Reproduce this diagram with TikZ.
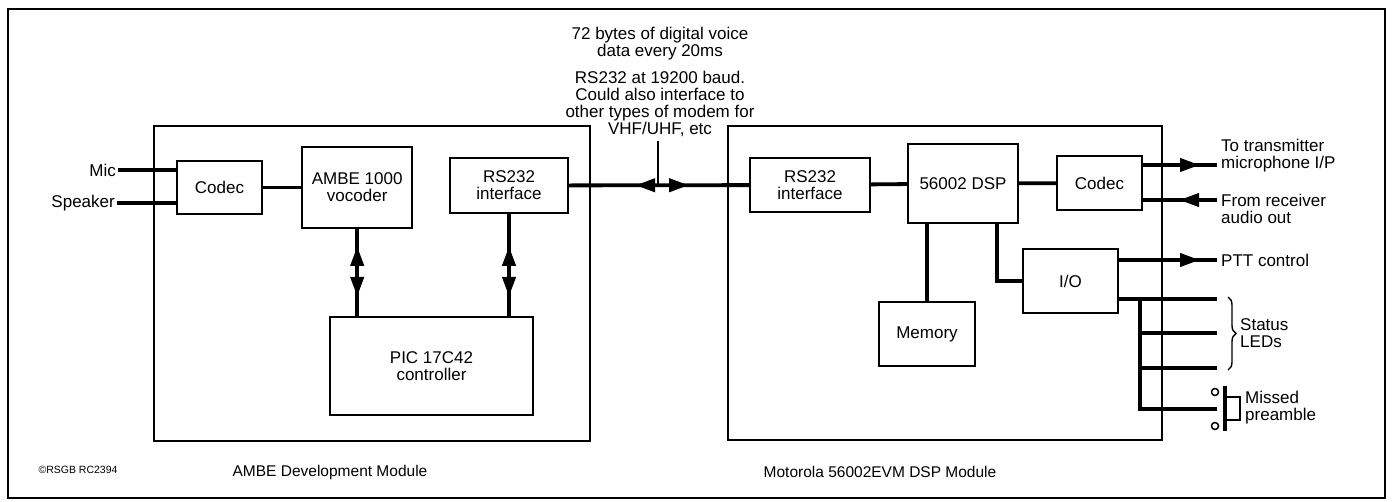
\documentclass[tikz,border=0pt]{standalone}
\usepackage{fontspec}
\setmainfont{Liberation Sans}
\usepackage{tikz}
\usetikzlibrary{arrows.meta, positioning, calc, decorations.markings, decorations.pathreplacing}

\newcommand{\lblsize}{\fontsize{17}{17}\selectfont}
\newcommand{\modsize}{\fontsize{15.5}{17}\selectfont}
\newcommand{\tagsize}{\fontsize{10.5}{11}\selectfont}

\tikzset{headtip/.tip={Triangle[length=19pt, width=14pt]}}

\begin{document}
\begin{tikzpicture}[x=1pt, y=-1pt,
  blk/.style={rectangle, draw=black, line width=2.2pt, fill=white, inner sep=1pt,
              align=center, font=\lblsize},
  module/.style={rectangle, draw=black, line width=1.4pt, inner sep=0pt},
  wire/.style={line width=3.8pt},
  lbl/.style={inner sep=2pt, align=left, font=\lblsize},
  twoway/.style={wire, postaction={decorate}, decoration={markings,
      mark=at position 20pt with {\arrowreversed[line width=1pt]{headtip}},
      mark=at position 69pt with {\arrow[line width=1pt]{headtip}}}},
  serial/.style={wire, postaction={decorate}, decoration={markings,
      mark=at position 67pt with {\arrowreversed[line width=1pt]{headtip}},
      mark=at position 119pt with {\arrow[line width=1pt]{headtip}}}},
  outward/.style={wire, postaction={decorate}, decoration={markings,
      mark=at position -18pt with {\arrow[line width=1pt]{headtip}}}},
  inward/.style={wire, postaction={decorate}, decoration={markings,
      mark=at position -37pt with {\arrowreversed[line width=1pt]{headtip}}}},
]
  \useasboundingbox (0,0) rectangle (1392,501);

  \node[module, minimum width=1377pt, minimum height=489pt] (frame) at (696.5,253.5) {};
  \node[module, minimum width=436pt, minimum height=315pt] (ambemod) at (372,283.5) {};
  \node[module, minimum width=434pt, minimum height=314pt] (dspmod) at (945,283) {};

  \node[blk, minimum width=85pt, minimum height=53pt] (codecl) at (219.5,187.5) {Codec};
  \node[blk, minimum width=110pt, minimum height=81pt, right=38pt of codecl] (vocoder) {AMBE 1000\\vocoder};
  \node[blk, minimum width=118pt, minimum height=55pt] (rsl) at (509,185.5) {RS232\\interface};
  \node[blk, minimum width=203pt, minimum height=98pt] (pic) at (431.5,366) {PIC 17C42\\controller};

  \node[blk, minimum width=120pt, minimum height=54pt] (rsr) at (810,185) {RS232\\interface};
  \node[blk, minimum width=110pt, minimum height=79pt] (dsp) at (963,183.5) {56002 DSP};
  \node[blk, minimum width=85pt, minimum height=54pt] (codecr) at (1099.5,183) {Codec};
  \node[blk, minimum width=95pt, minimum height=64pt] (io) at (1070.5,281) {I/O};
  \node[blk, minimum width=96pt, minimum height=64pt] (mem) at (927,334) {Memory};

  \node[lbl, anchor=east] (mic) at (118,170) {Mic};
  \node[lbl, anchor=east] (spk) at (117,203) {Speaker};
  \draw[wire] (mic.east) -- (mic.east -| codecl.west);
  \draw[wire] (spk.east) -- (spk.east -| codecl.west);
  \draw[wire] (codecl) -- (vocoder);
  \draw[twoway] (vocoder.south |- pic.north) -- (vocoder.south);
  \draw[twoway] (rsl.south |- pic.north) -- (rsl.south);

  \node[font=\lblsize, align=center] (rate) at (660,44) {72 bytes of digital voice\\data every 20ms};
  \node[font=\lblsize, align=center] (link) at (660,104) {RS232 at 19200 baud.\\Could also interface to\\other types of modem for\\VHF/UHF, etc};
  \coordinate (tap) at (658,141);
  \draw[line width=1.4pt] (tap) -- (tap |- rsl.east);
  \draw[serial] (rsl) -- (rsr);

  \draw[wire] (rsr) -- (dsp);
  \draw[wire] (dsp) -- (codecr);
  \draw[wire] (mem.north) -- (mem.north |- dsp.south);
  \draw[wire] (io.west) -| ($(dsp.south)+(34,0)$);

  \coordinate (txend) at (1217,165);
  \coordinate (rxend) at (1217,200);
  \coordinate (pttend) at (1217,260);
  \draw[outward] (codecr.east |- txend) -- (txend);
  \draw[inward] (codecr.east |- rxend) -- (rxend);
  \draw[outward] (io.east |- pttend) -- (pttend);
  \node[lbl, anchor=west] (txlbl) at (1219,156) {To transmitter\\microphone I/P};
  \node[lbl, anchor=west] (rxlbl) at (1219,208.5) {From receiver\\audio out};
  \node[lbl, anchor=west] (pttlbl) at (1219,260) {PTT control};

  \coordinate (ledbus) at (1140,299);
  \coordinate (led1) at (1217,299);
  \coordinate (led2) at (1217,333);
  \coordinate (led3) at (1217,368);
  \coordinate (swin) at (1217,409);
  \draw[wire] (io.east |- led1) -- (led1);
  \draw[wire] (ledbus) |- (swin);
  \foreach \n in {led2, led3}
    \draw[wire] (ledbus |- \n) -- (\n);
  \draw[line width=1.4pt, decorate, decoration={brace, amplitude=8pt}] (1228,297) -- (1228,370);
  \node[lbl, anchor=west] (ledlbl) at (1238,333) {Status\\LEDs};

  \node[circle, draw, line width=1.5pt, minimum size=7pt, inner sep=0pt] (swa) at (1215,392) {};
  \node[circle, draw, line width=1.5pt, minimum size=7pt, inner sep=0pt] (swb) at (1215,426) {};
  \draw[line width=3.8pt] (1225,386) -- (1225,431);
  \draw[line width=1.4pt] (1226,397) -| (1240,420) -- (1226,420);
  \node[lbl, anchor=west] (swlbl) at (1243,408) {Missed\\preamble};

  \node[font=\modsize] (ambelbl) at (330,472) {AMBE Development Module};
  \node[font=\modsize] (motlbl) at (880,472) {Motorola 56002EVM DSP Module};
  \node[font=\tagsize, anchor=west] (tag) at (35,470) {©RSGB RC2394};
\end{tikzpicture}
\end{document}
